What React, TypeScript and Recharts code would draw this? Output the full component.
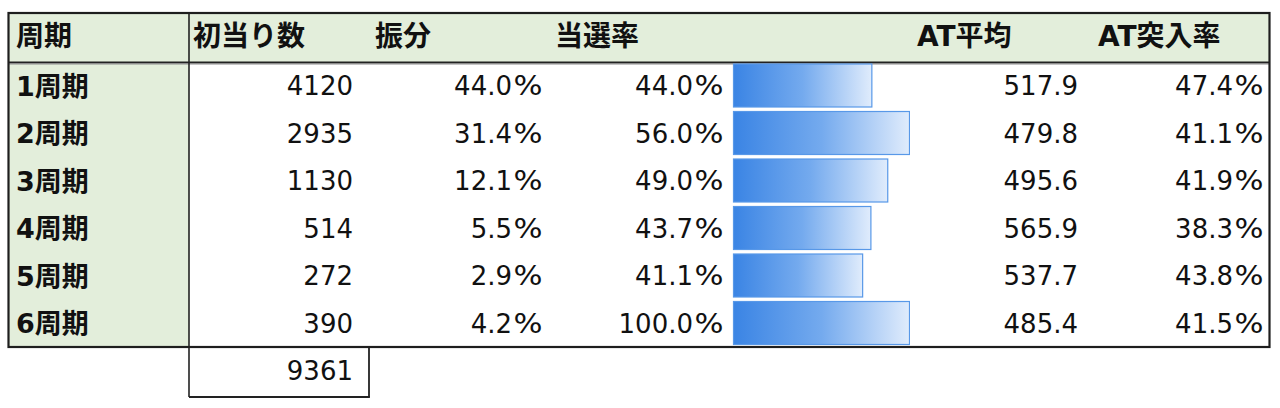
import React from 'react';
import { BarChart, Bar, XAxis, YAxis } from 'recharts';

// ---- data ----
const periods = ['1周期', '2周期', '3周期', '4周期', '5周期', '6周期'];
const firstHits = [4120, 2935, 1130, 514, 272, 390];
const distribution = [44.0, 31.4, 12.1, 5.5, 2.9, 4.2];
const winRates = [44.0, 56.0, 49.0, 43.7, 41.1, 100.0];
const atAverages = [517.9, 479.8, 495.6, 565.9, 537.7, 485.4];
const atEntryRates = [47.4, 41.1, 41.9, 38.3, 43.8, 41.5];
const totalHits = 9361;
const headers = ['周期', '初当り数', '振分', '当選率', 'AT平均', 'AT突入率'];
const barScaleMax = 56; // data-bar axis maximum (%)

const data = periods.map((p, i) => ({
  period: p,
  hits: firstHits[i],
  dist: distribution[i],
  rate: winRates[i],
  atAvg: atAverages[i],
  atEntry: atEntryRates[i],
}));

// ---- layout / style ----
const W = 1280;
const H = 408;
const T_LEFT = 8.5;
const T_RIGHT = 1269.5;
const T_TOP = 13;
const HEAD_BOTTOM = 62;
const T_BOTTOM = 347;
const LABEL_COL = 189;
const TOTAL_RIGHT = 369;
const TOTAL_BOTTOM = 397;
const PLOT_LEFT = 732;
const PLOT_RIGHT = 910;
const Y_AXIS_W = 60;

const FONT = "'DejaVu Sans', 'Noto Sans CJK JP', sans-serif";
const GREEN = '#e3eedb';
const INK = '#111111';
const FS = 26;
const HEAD_FS = 28;
const LABEL_FS = 27;

const headerX = [16, 193, 375, 555, 917, 1098];
const colRight = { hits: 353, dist: 543, rate: 724, atAvg: 1078, atEntry: 1264 };

const common = { fontFamily: FONT, fontSize: FS, fill: INK } as const;

function PctText({ xr, y, v }: { xr: number; y: number; v: number }) {
  return (
    <g>
      <text x={xr - 31} y={y} {...common} textAnchor="end">{v.toFixed(1)}</text>
      <text x={xr - 29.5} y={y} {...common} textAnchor="start" textLength={29} lengthAdjust="spacingAndGlyphs">%</text>
    </g>
  );
}

function RowTick(props: any) {
  const { y, payload } = props;
  const i = periods.indexOf(payload.value);
  if (i < 0) return null;
  const d = data[i];
  const by = y + 9.5;
  return (
    <g>
      <text x={16} y={by + 0.5} fontFamily={FONT} fontSize={LABEL_FS} fill={INK} fontWeight={700} textAnchor="start">{d.period}</text>
      <text x={colRight.hits} y={by} {...common} textAnchor="end">{String(d.hits)}</text>
      <PctText xr={colRight.dist} y={by} v={d.dist} />
      <PctText xr={colRight.rate} y={by} v={d.rate} />
      <text x={colRight.atAvg} y={by} {...common} textAnchor="end">{d.atAvg.toFixed(1)}</text>
      <PctText xr={colRight.atEntry} y={by} v={d.atEntry} />
    </g>
  );
}

function DataBar(props: any) {
  const { x, y, width, height, index, background } = props;
  if (x == null || width == null) return null;
  const right = background && background.width > 0 ? background.x + background.width : PLOT_RIGHT;
  const x0 = x + 1.5;
  const w = Math.max(0, Math.min(x + width, right - 0.5) - x0);
  const id = `databar-grad-${index}`;
  return (
    <g>
      <defs>
        <linearGradient id={id} x1="0" y1="0" x2="1" y2="0">
          <stop offset="0%" stopColor="#3a84e4" />
          <stop offset="50%" stopColor="#74aaee" />
          <stop offset="100%" stopColor="#e0ecfc" />
        </linearGradient>
      </defs>
      <rect x={x0} y={y} width={w} height={height} fill={`url(#${id})`} stroke="#5898e8" strokeWidth={1.2} />
    </g>
  );
}

export default function App() {
  return (
    <div style={{ position: 'absolute', left: 0, top: 0, width: W, height: H, background: '#fff' }}>
      <svg width={W} height={H} style={{ position: 'absolute', left: 0, top: 0 }}>
        <rect x={T_LEFT} y={T_TOP} width={T_RIGHT - T_LEFT} height={HEAD_BOTTOM - T_TOP} fill={GREEN} />
        <rect x={T_LEFT} y={HEAD_BOTTOM} width={LABEL_COL - T_LEFT} height={T_BOTTOM - HEAD_BOTTOM} fill={GREEN} />
        <line x1={T_LEFT} x2={T_RIGHT} y1={62.2} y2={62.2} stroke="#222" strokeWidth={1.5} />
        <line x1={T_LEFT} x2={T_RIGHT} y1={63.8} y2={63.8} stroke="#8c8c8c" strokeWidth={1.5} />
        <line x1={LABEL_COL} x2={LABEL_COL} y1={T_TOP} y2={TOTAL_BOTTOM} stroke="#222" strokeWidth={1.6} />
        <line x1={TOTAL_RIGHT} x2={TOTAL_RIGHT} y1={T_BOTTOM} y2={TOTAL_BOTTOM} stroke="#222" strokeWidth={1.8} />
        <line x1={LABEL_COL} x2={TOTAL_RIGHT + 0.9} y1={TOTAL_BOTTOM} y2={TOTAL_BOTTOM} stroke="#222" strokeWidth={1.8} />
        <rect x={T_LEFT} y={T_TOP} width={T_RIGHT - T_LEFT} height={T_BOTTOM - T_TOP} fill="none" stroke="#1e1e1e" strokeWidth={2.2} />
        {headers.map((h, i) => (
          <text key={h} x={headerX[i]} y={45.5} fontFamily={FONT} fontSize={HEAD_FS} fontWeight={700} fill={INK}>{h}</text>
        ))}
        <text x={colRight.hits} y={379.5} {...common} textAnchor="end">{String(totalHits)}</text>
      </svg>
      <div style={{ position: 'absolute', left: 0, top: 0 }}>
        <BarChart
          width={W}
          height={H}
          data={data}
          layout="vertical"
          margin={{ top: HEAD_BOTTOM, bottom: H - T_BOTTOM, left: PLOT_LEFT - Y_AXIS_W, right: W - PLOT_RIGHT }}
        >
          <XAxis type="number" domain={[0, barScaleMax]} allowDataOverflow hide />
          <YAxis
            type="category"
            dataKey="period"
            width={Y_AXIS_W}
            axisLine={false}
            tickLine={false}
            interval={0}
            tick={<RowTick />}
          />
          <Bar dataKey="rate" barSize={43} isAnimationActive={false} shape={<DataBar />} />
        </BarChart>
      </div>
    </div>
  );
}
